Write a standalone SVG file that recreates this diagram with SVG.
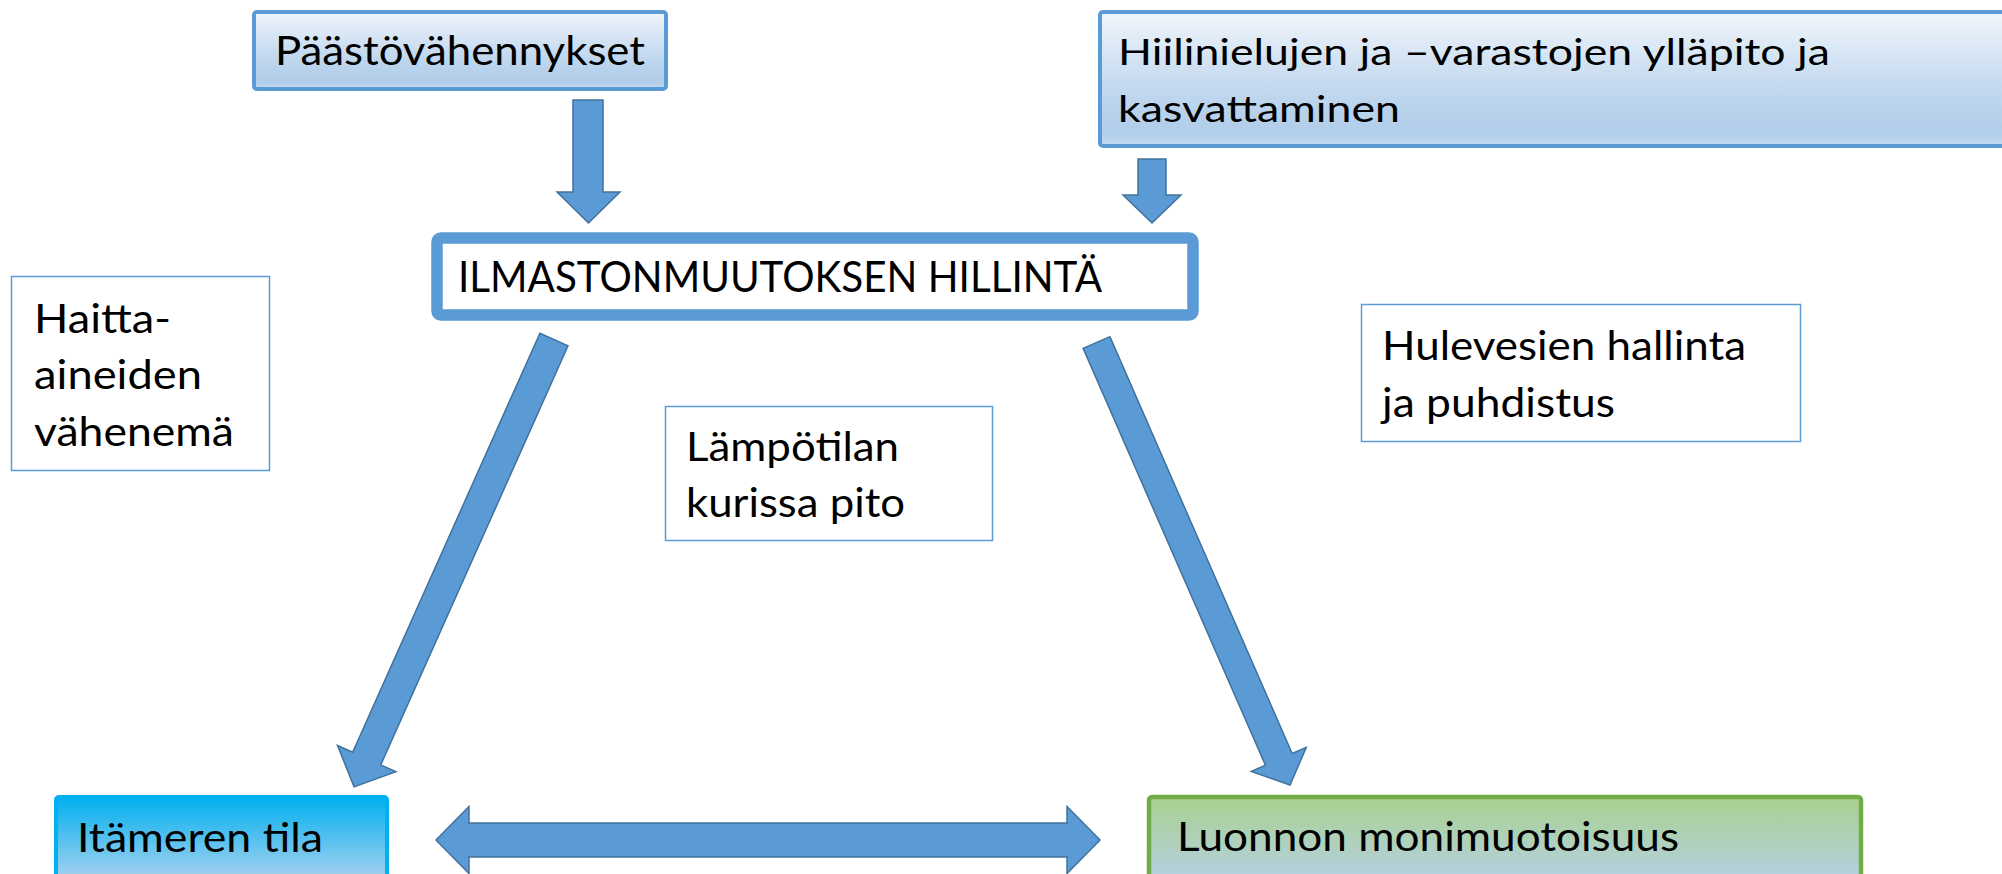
<svg xmlns="http://www.w3.org/2000/svg" width="2002" height="874" viewBox="0 0 2002 874">
<defs>
<linearGradient id="gBlue" x1="0" y1="0" x2="0" y2="1">
<stop offset="0" stop-color="#f0f5fb"/>
<stop offset="0.6" stop-color="#c0d7ee"/>
<stop offset="0.9" stop-color="#b1cde9"/>
<stop offset="1" stop-color="#c4daf0"/>
</linearGradient>
<linearGradient id="gCyan" x1="0" y1="0" x2="0" y2="1">
<stop offset="0" stop-color="#00b0f0"/>
<stop offset="1" stop-color="#bcd5ee"/>
</linearGradient>
<linearGradient id="gGreen" x1="0" y1="0" x2="0" y2="1">
<stop offset="0" stop-color="#a9d18e"/>
<stop offset="1" stop-color="#b6d0ec"/>
</linearGradient>
<style>
text{font-family:Lato,"Open Sans","Liberation Sans",sans-serif;fill:#000;}
.t{font-size:40px;}
.arrow{fill:#5b9bd5;stroke:#41719c;stroke-width:1.5;stroke-linejoin:miter;}
.thin{fill:#fff;stroke:#5b9bd5;stroke-width:1.5;}
</style>
</defs>
<rect width="2002" height="874" fill="#fff"/>

<g id="connectors">
<polygon class="arrow" points="573,100 603,100 603,192 620,192 588.5,223 557,192 573,192"/>
<polygon class="arrow" points="1138,159 1166,159 1166,195 1181,195 1152,223 1123,195 1138,195"/>
<g transform="translate(554,339.5) rotate(114.08)">
<polygon class="arrow" points="0,-15.4 459,-15.4 459,-32 490,0 459,32 459,15.4 0,15.4"/>
</g>
<g transform="translate(1096.5,342.5) rotate(66.38)">
<polygon class="arrow" points="0,-14.6 455,-14.6 455,-30 483,0 455,30 455,14.6 0,14.6"/>
</g>
<polygon class="arrow" points="436,840 469,806.5 469,823 1067,823 1067,806.5 1100,840 1067,873.5 1067,857 469,857 469,873.5"/>
</g>

<g id="paastovahennykset">
<rect x="254" y="12" width="412" height="77" rx="3" fill="url(#gBlue)" stroke="#5b9bd5" stroke-width="4"/>
<text class="t" x="275" y="65" font-size="39" textLength="370" lengthAdjust="spacingAndGlyphs">Päästövähennykset</text>
</g>

<g id="hiilinielut">
<rect x="1100" y="12" width="920" height="134" rx="3" fill="url(#gBlue)" stroke="#5b9bd5" stroke-width="4"/>
<text x="1118" y="65" font-size="36" textLength="712" lengthAdjust="spacingAndGlyphs">Hiilinielujen ja –varastojen ylläpito ja</text>
<text x="1118" y="122" font-size="36" textLength="282" lengthAdjust="spacingAndGlyphs">kasvattaminen</text>
</g>

<g id="ilmastonmuutos">
<rect x="437" y="238" width="756" height="77" rx="4" fill="#fff" stroke="#5b9bd5" stroke-width="11.5"/>
<text x="458" y="292" font-size="42" textLength="644" lengthAdjust="spacingAndGlyphs">ILMASTONMUUTOKSEN HILLINTÄ</text>
</g>

<g id="haitta-aineet">
<rect class="thin" x="11.5" y="276.5" width="258" height="194"/>
<text x="34" y="333" font-size="40" textLength="137" lengthAdjust="spacingAndGlyphs">Haitta-</text>
<text x="34" y="389" font-size="40" textLength="168" lengthAdjust="spacingAndGlyphs">aineiden</text>
<text x="34" y="446" font-size="40" textLength="200" lengthAdjust="spacingAndGlyphs">vähenemä</text>
</g>

<g id="lampotila">
<rect class="thin" x="665.5" y="406.5" width="327" height="134"/>
<text x="686" y="461" font-size="41" textLength="213" lengthAdjust="spacingAndGlyphs">Lämpötilan</text>
<text x="686" y="517" font-size="41" textLength="219" lengthAdjust="spacingAndGlyphs">kurissa pito</text>
</g>

<g id="hulevedet">
<rect class="thin" x="1361.5" y="304.5" width="439" height="137"/>
<text x="1382" y="360" font-size="40" textLength="364" lengthAdjust="spacingAndGlyphs">Hulevesien hallinta</text>
<text x="1382" y="417" font-size="40" textLength="233" lengthAdjust="spacingAndGlyphs">ja puhdistus</text>
</g>

<g id="itameri">
<rect x="56" y="797" width="331" height="92" rx="3" fill="url(#gCyan)" stroke="#00b0f0" stroke-width="4"/>
<text x="77" y="852" font-size="41" textLength="246" lengthAdjust="spacingAndGlyphs">Itämeren tila</text>
</g>

<g id="luonto">
<rect x="1149" y="797" width="712" height="92" rx="3" fill="url(#gGreen)" stroke="#70ad47" stroke-width="4.5"/>
<text x="1177" y="851" font-size="41" textLength="502" lengthAdjust="spacingAndGlyphs">Luonnon monimuotoisuus</text>
</g>
</svg>
